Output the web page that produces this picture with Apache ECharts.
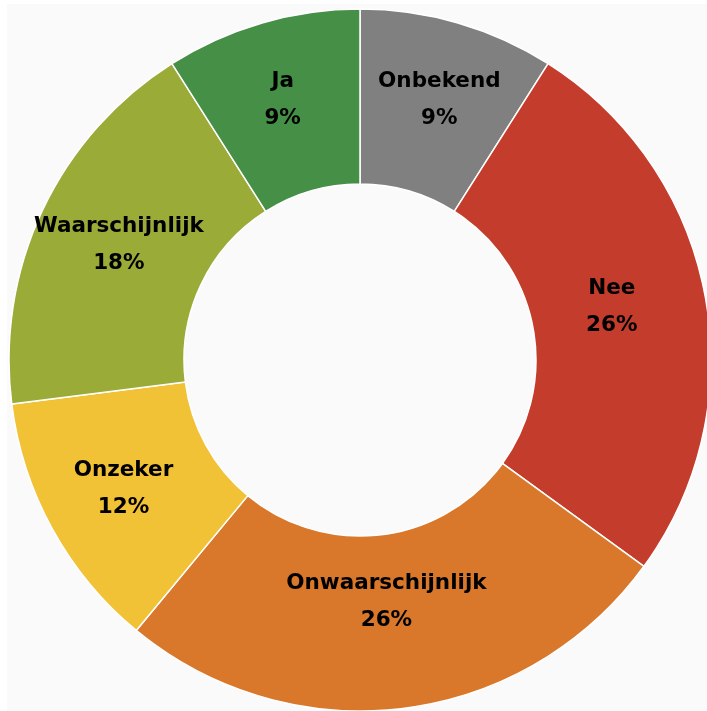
<!DOCTYPE html>
<html>
<head>
<meta charset="utf-8">
<script src="https://cdn.jsdelivr.net/npm/echarts@6/dist/echarts.min.js"></script>
<style>
html,body{margin:0;padding:0;background:#ffffff;overflow:hidden;}
#chart{position:absolute;left:7px;top:4px;width:700px;height:707px;background:#fafafa;}
</style>
</head>
<body>
<div id="chart"></div>
<script>
const categories = ['Onbekend', 'Nee', 'Onwaarschijnlijk', 'Onzeker', 'Waarschijnlijk', 'Ja'];
const values = [9, 26, 26, 12, 18, 9];
const colors = ['#808080', '#c43c2c', '#d9782b', '#f1c136', '#9aab38', '#458f47'];

const chart = echarts.init(document.getElementById('chart'), null, {renderer: 'canvas'});
// label nudges (styling only)
const labelNudge = [[5, -4], [-10, -3], [-7, -22], [-3, 1], [0, -2], [-3, -4]];
chart.setOption({
  animation: false,
  backgroundColor: '#fafafa',
  series: [{
    type: 'pie',
    center: [353, 356],
    radius: [176, 351],
    startAngle: 90,
    clockwise: true,
    percentPrecision: 0,
    avoidLabelOverlap: false,
    emphasis: {disabled: true},
    itemStyle: {borderColor: '#ffffff', borderWidth: 1.5},
    label: {
      show: true,
      position: 'inside',
      formatter: '{b}\n{d}%',
      color: '#000000',
      fontFamily: 'DejaVu Sans',
      fontWeight: 'bold',
      fontSize: 21.5,
      lineHeight: 37,
      align: 'center'
    },
    labelLine: {show: false},
    data: categories.map((c, i) => ({
      name: c,
      value: values[i],
      itemStyle: {color: colors[i]},
      label: {offset: labelNudge[i]}
    }))
  }]
});
</script>
</body>
</html>
